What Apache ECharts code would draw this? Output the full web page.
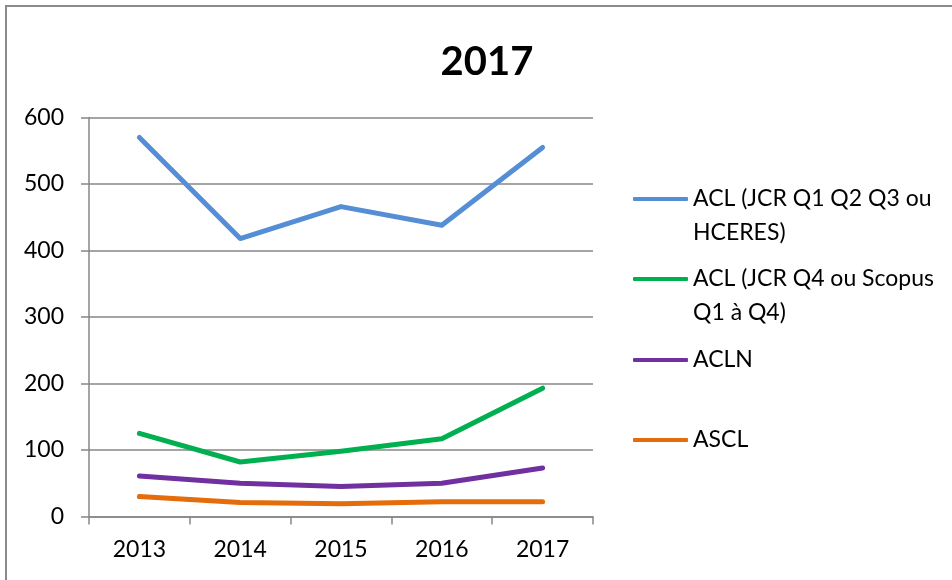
<!DOCTYPE html>
<html>
<head>
<meta charset="utf-8">
<script src="https://cdn.jsdelivr.net/npm/echarts@6/dist/echarts.min.js"></script>
<style>
  html, body { margin: 0; padding: 0; background: #fff; }
  #chart { width: 952px; height: 580px; }
</style>
</head>
<body>
<div id="chart"></div>
<script>
const titleText = '2017';
const categories = ['2013', '2014', '2015', '2016', '2017'];
const seriesNames = [
  'ACL (JCR Q1 Q2 Q3 ou HCERES)',
  'ACL (JCR Q4 ou Scopus Q1 à Q4)',
  'ACLN',
  'ASCL'
];
const legendLabels = [
  'ACL (JCR Q1 Q2 Q3 ou\nHCERES)',
  'ACL (JCR Q4 ou Scopus\nQ1 à Q4)',
  'ACLN',
  'ASCL'
];
const aclQ123 = [570, 418, 466, 438, 555];
const aclQ4 = [125, 82, 98, 117, 193];
const acln = [61, 50, 45, 50, 73];
const ascl = [30, 21, 19, 22, 22];
const yTicks = [0, 100, 200, 300, 400, 500, 600];
const colors = ['#558ED5', '#00B050', '#7030A0', '#E46C0A'];
const values = [aclQ123, aclQ4, acln, ascl];

const FONT = 'Lato';
const gridColor = '#878787';

// legend item icon centre lines
const legendIconY = [199, 279, 360, 440];

const legends = seriesNames.map((name, i) => {
  const twoLine = legendLabels[i].indexOf('\n') >= 0;
  // a leading blank line keeps the first text line level with the icon
  const label = twoLine ? '\n' + legendLabels[i] : legendLabels[i];
  return {
    data: [{ name: name, icon: 'roundRect' }],
    left: 633,
    top: legendIconY[i] - (twoLine ? 51 : 17),
    padding: 0,
    itemWidth: 55,
    itemHeight: 4,
    selectedMode: false,
    formatter: () => label,
    textStyle: {
      fontFamily: FONT,
      fontSize: 23,
      color: '#000',
      lineHeight: 34
    }
  };
});

const chart = echarts.init(document.getElementById('chart'), null, { renderer: 'canvas' });
chart.setOption({
  animation: false,
  backgroundColor: '#fff',
  title: {
    text: titleText,
    left: 482,
    top: 57,
    textAlign: 'center',
    textVerticalAlign: 'middle',
    textStyle: { fontFamily: FONT, fontSize: 40, fontWeight: 'bold', color: '#000' }
  },
  graphic: [{
    type: 'rect',
    shape: { x: 6, y: 6, width: 2000, height: 2000 },
    style: { fill: 'none', stroke: '#8a8a8a', lineWidth: 2 },
    silent: true
  }],
  legend: legends,
  grid: { left: 89, right: 359, top: 117.5, bottom: 63.5, containLabel: false },
  xAxis: {
    type: 'category',
    data: categories,
    boundaryGap: true,
    axisLine: { lineStyle: { color: gridColor, width: 1.5 } },
    axisTick: { show: true, length: 8, interval: 0, lineStyle: { color: gridColor, width: 1.5 } },
    axisLabel: { fontFamily: FONT, fontSize: 23, color: '#000', margin: 22 },
    splitLine: { show: false }
  },
  yAxis: {
    type: 'value',
    min: 0,
    max: 600,
    interval: 100,
    axisLine: { show: true, lineStyle: { color: gridColor, width: 1.5 } },
    axisTick: { show: true, length: 8, lineStyle: { color: gridColor, width: 1.5 } },
    axisLabel: {
      fontFamily: FONT, fontSize: 23, color: '#000', margin: 25,
      formatter: v => (yTicks.indexOf(v) >= 0 ? String(v) : '')
    },
    splitLine: { show: true, lineStyle: { color: gridColor, width: 1.5 } }
  },
  series: seriesNames.map((name, i) => ({
    name: name,
    type: 'line',
    data: values[i],
    symbol: 'none',
    showSymbol: false,
    smooth: false,
    color: colors[i],
    lineStyle: { color: colors[i], width: 5, cap: 'round', join: 'round' },
    itemStyle: { color: colors[i] }
  }))
});
</script>
</body>
</html>
